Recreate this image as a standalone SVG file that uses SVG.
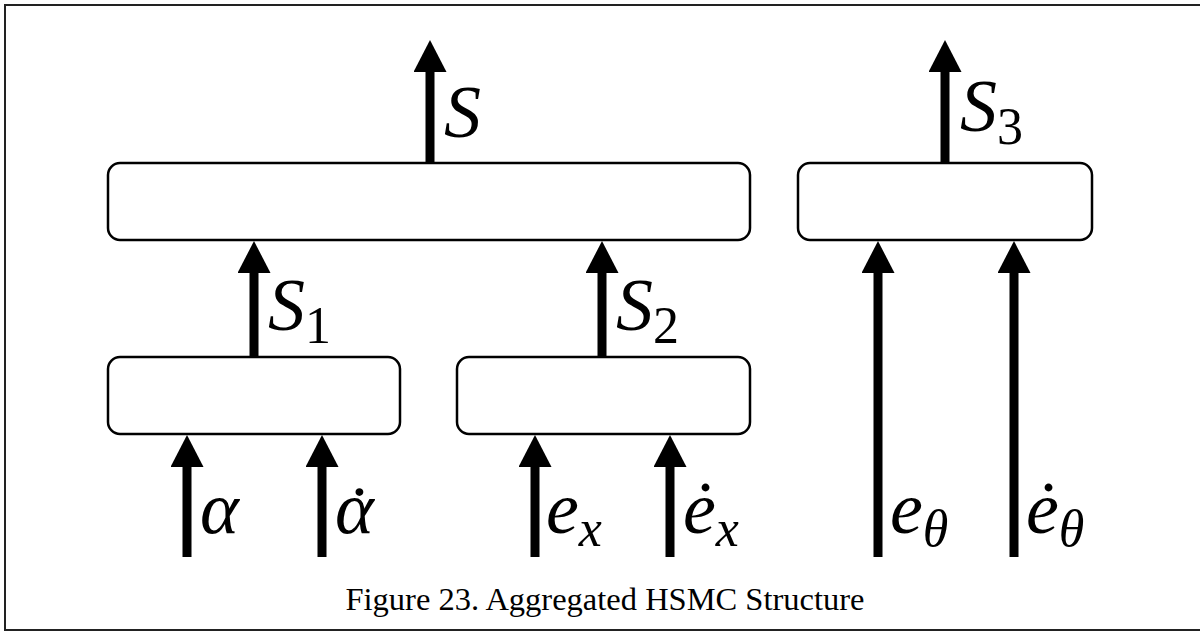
<svg xmlns="http://www.w3.org/2000/svg" width="1200" height="631" viewBox="0 0 1200 631">
<style>
.frame{fill:none;stroke:#222;stroke-width:2}
.box{fill:#fff;stroke:#000;stroke-width:2.5}
.arr{stroke:#000;stroke-width:9;fill:none;marker-end:url(#head)}
.m{font-family:"Liberation Serif",serif;font-style:italic;font-size:74px;fill:#000}
.sub{font-size:52px}
.num{font-style:normal}
.dot{font-style:normal}
.cap{font-family:"Liberation Serif",serif;font-size:32.5px;fill:#000;text-anchor:middle}
</style>
<defs>
<marker id="head" markerUnits="userSpaceOnUse" viewBox="0 0 32 33" refX="2" refY="16.5" markerWidth="32" markerHeight="33" orient="auto">
<path d="M0,0 L32,16.5 L0,33 Z" fill="#000"/>
</marker>
</defs>
<rect class="frame" x="5" y="5" width="1210" height="625"/>
<g id="connectors">
<line class="arr" x1="430" y1="163" x2="430" y2="70"/>
<line class="arr" x1="945" y1="163" x2="945" y2="70"/>
<line class="arr" x1="254" y1="357" x2="254" y2="271"/>
<line class="arr" x1="602" y1="357" x2="602" y2="271"/>
<line class="arr" x1="187" y1="557" x2="187" y2="465"/>
<line class="arr" x1="322" y1="557" x2="322" y2="465"/>
<line class="arr" x1="535" y1="557" x2="535" y2="465"/>
<line class="arr" x1="670" y1="557" x2="670" y2="465"/>
<line class="arr" x1="878" y1="557" x2="878" y2="271"/>
<line class="arr" x1="1014" y1="557" x2="1014" y2="271"/>
</g>
<g id="box-top"><rect class="box" x="108" y="163" width="642" height="77" rx="12"/></g>
<g id="box-s3"><rect class="box" x="798" y="163" width="294" height="77" rx="12"/></g>
<g id="box-s1"><rect class="box" x="108" y="357" width="292" height="77" rx="12"/></g>
<g id="box-s2"><rect class="box" x="457" y="357" width="293" height="77" rx="12"/></g>
<g id="labels">
<text class="m" x="444" y="137">S</text>
<text class="m" x="960" y="131">S<tspan class="sub num" y="144">3</tspan></text>
<text class="m" x="268" y="330">S<tspan class="sub num" y="343">1</tspan></text>
<text class="m" x="616" y="330">S<tspan class="sub num" y="343">2</tspan></text>
<text class="m" x="200" y="533">α</text>
<text class="m" x="335" y="533">α<tspan class="dot" x="347" y="537">˙</tspan></text>
<text class="m" x="546" y="533">e<tspan class="sub" y="546">x</tspan></text>
<text class="m" x="683" y="533">ė<tspan class="sub" y="546">x</tspan></text>
<text class="m" x="890" y="533">e<tspan class="sub" y="546">θ</tspan></text>
<text class="m" x="1026" y="533">ė<tspan class="sub" y="546">θ</tspan></text>
</g>
<text class="cap" x="605" y="610">Figure 23. Aggregated HSMC Structure</text>
</svg>
